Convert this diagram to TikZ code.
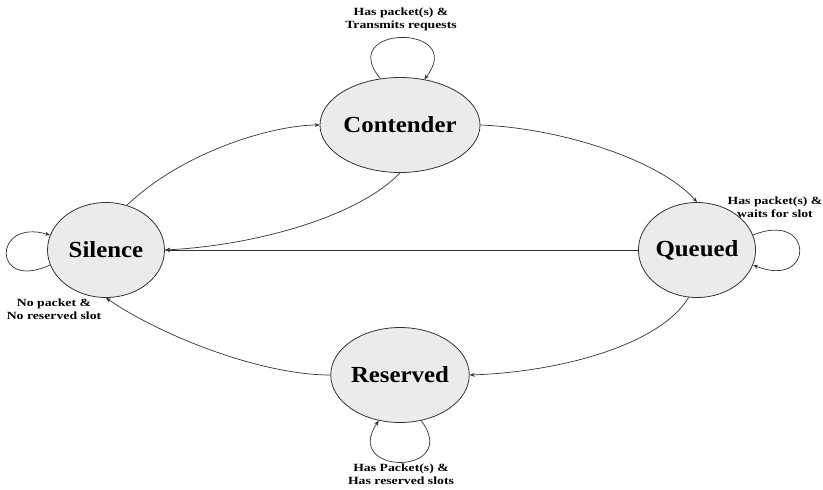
\documentclass[tikz,border=0pt]{standalone}
\usepackage{fontspec}
\setmainfont{Liberation Serif}
\newfontfamily\labfont[FakeStretch=1.25]{Liberation Serif}
\newfontfamily\statefont[FakeStretch=1.08]{Liberation Serif}
\usetikzlibrary{shapes.geometric,arrows.meta}
\definecolor{statefill}{RGB}{235,235,235}
\definecolor{edgecol}{RGB}{50,50,50}
\begin{document}
\begin{tikzpicture}[x=1pt,y=-1pt,
  state/.style={ellipse,draw=edgecol,line width=0.8pt,fill=statefill,minimum width=117pt,minimum height=95pt,inner sep=0pt,font=\statefont\bfseries\fontsize{23}{27}\selectfont},
  edge/.style={draw=edgecol,line width=0.7pt,-{Stealth[length=5pt,width=4pt]}},
  lab/.style={align=center,inner sep=0pt,font=\labfont\bfseries\fontsize{11}{13}\selectfont}]
\useasboundingbox (0,0) rectangle (823,490);
\node[state] (C) at (400,125) {Contender};
\node[state] (S) at (106,250) {Silence};
\node[state] (Q) at (697,250) {Queued};
\node[state] (R) at (400,375) {Reserved};
% transitions
\draw[edge] (S.65) .. controls (185,150) and (275,125) .. (C.west);
\draw[edge] (C.south) .. controls (360,215) and (260,245) .. (S.east);
\draw[edge] (C.east) .. controls (560,128) and (660,160) .. (Q.north);
\draw[edge] (Q.west) -- (S.east);
\draw[edge] (Q.-100) .. controls (660,345) and (560,372) .. (R.east);
\draw[edge] (R.west) .. controls (260,375) and (160,335) .. (S.south);
% self loops
\draw[edge] (C.113) .. controls (335,24) and (468,24) .. (C.62);
\draw[edge] (S.195) .. controls (-8,292) and (-8,218) .. (S.165);
\draw[edge] (Q.15) .. controls (815,210) and (815,290) .. (Q.-15);
\draw[edge] (R.-65) .. controls (462,476) and (341,476) .. (R.-115);
% labels
\node[lab] (lc) at (401,19) {Has packet(s) \&\\Transmits requests};
\node[lab] (lq) at (775,207) {Has packet(s) \&\\waits for slot};
\node[lab] (ls) at (54,309) {No packet \&\\No reserved slot};
\node[lab] (lr) at (401,474) {Has Packet(s) \&\\Has reserved slots};
\end{tikzpicture}
\end{document}
